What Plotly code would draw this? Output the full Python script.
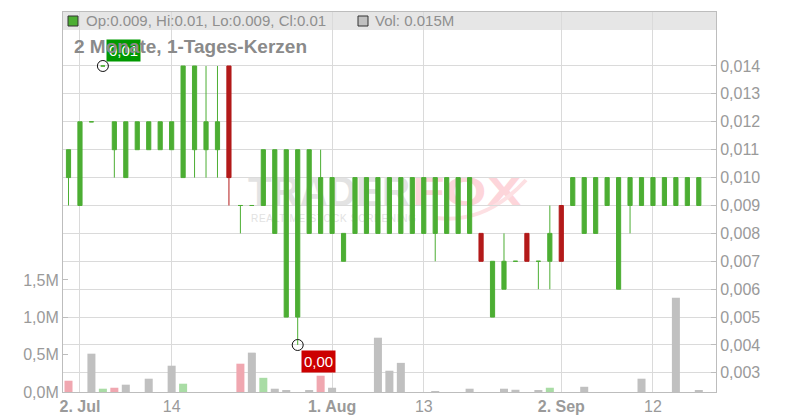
import base64
import numpy as np
import pandas as pd
import plotly.graph_objects as go

# ---------------- data ----------------
MISSING_DAYS = ["2025-08-15", "2025-09-01"]
DATES = [d.strftime("%Y-%m-%d") for d in pd.bdate_range("2025-07-01", "2025-09-18")
         if d.strftime("%Y-%m-%d") not in MISSING_DAYS]

OPEN = [0.010, 0.009, 0.012, 0.014, 0.011, 0.010, 0.011, 0.011, 0.011, 0.011,
        0.010, 0.011, 0.011, 0.011, 0.014, 0.009, 0.009, 0.009, 0.008, 0.005,
        0.005, 0.008, 0.008, 0.008, 0.007, 0.008, 0.008, 0.008, 0.008, 0.008,
        0.008, 0.008, 0.008, 0.008, 0.008, 0.008, 0.008, 0.005, 0.006, 0.007,
        0.008, 0.007, 0.007, 0.009, 0.009, 0.008, 0.008, 0.009, 0.006, 0.009,
        0.009, 0.009, 0.009, 0.009, 0.009, 0.009]
HIGH = [0.011, 0.012, 0.012, 0.014, 0.012, 0.012, 0.012, 0.012, 0.012, 0.012,
        0.014, 0.014, 0.014, 0.014, 0.014, 0.009, 0.009, 0.011, 0.011, 0.011,
        0.011, 0.011, 0.011, 0.010, 0.008, 0.010, 0.010, 0.010, 0.010, 0.010,
        0.010, 0.010, 0.010, 0.010, 0.010, 0.010, 0.008, 0.007, 0.008, 0.007,
        0.008, 0.007, 0.009, 0.009, 0.010, 0.010, 0.010, 0.010, 0.010, 0.010,
        0.010, 0.010, 0.010, 0.010, 0.010, 0.010]
LOW = [0.009, 0.009, 0.012, 0.014, 0.010, 0.010, 0.011, 0.011, 0.011, 0.011,
       0.010, 0.010, 0.010, 0.010, 0.009, 0.008, 0.009, 0.009, 0.008, 0.005,
       0.004, 0.008, 0.008, 0.008, 0.007, 0.008, 0.008, 0.008, 0.008, 0.008,
       0.008, 0.008, 0.007, 0.008, 0.008, 0.008, 0.007, 0.005, 0.006, 0.007,
       0.007, 0.006, 0.006, 0.007, 0.009, 0.008, 0.008, 0.009, 0.006, 0.008,
       0.009, 0.009, 0.009, 0.009, 0.009, 0.009]
CLOSE = [0.011, 0.012, 0.012, 0.014, 0.012, 0.012, 0.012, 0.012, 0.012, 0.012,
         0.014, 0.014, 0.012, 0.012, 0.010, 0.009, 0.009, 0.011, 0.011, 0.011,
         0.011, 0.011, 0.010, 0.010, 0.008, 0.010, 0.010, 0.010, 0.010, 0.010,
         0.010, 0.010, 0.010, 0.010, 0.010, 0.010, 0.007, 0.007, 0.007, 0.007,
         0.007, 0.007, 0.008, 0.007, 0.010, 0.010, 0.010, 0.010, 0.010, 0.010,
         0.010, 0.010, 0.010, 0.010, 0.010, 0.010]
VOLUME_M = [0.151, 0, 0.513, 0.044, 0.057, 0.098, 0, 0.178, 0, 0.352,
            0.111, 0, 0, 0, 0, 0.379, 0.527, 0.19, 0.044, 0.015,
            0, 0.015, 0.218, 0.057, 0, 0, 0, 0.727, 0.285, 0.39,
            0, 0, 0.01, 0, 0, 0.044, 0, 0, 0.044, 0.03,
            0, 0.015, 0.057, 0, 0, 0.07, 0, 0, 0, 0,
            0.178, 0, 0, 1.263, 0, 0.015]
PREV_CLOSE = 0.012

TICK_DATES = ["2025-07-02", "2025-07-14", "2025-08-01", "2025-08-13", "2025-09-02", "2025-09-12"]
TICK_LABELS = ["<b>2. Jul</b>", "14", "<b>1. Aug</b>", "13", "<b>2. Sep</b>", "12"]
PRICE_TICKS = [0.003, 0.004, 0.005, 0.006, 0.007, 0.008, 0.009, 0.010, 0.011, 0.012, 0.013, 0.014]
VOLUME_TICKS = [0.0, 0.5, 1.0, 1.5]
TITLE = "2 Monate, 1-Tages-Kerzen"

# ---------------- styles ----------------
GREEN = "#4cae33"
RED = "#b31a1a"
VOL_UP = "#a9dca5"
VOL_DOWN = "#f0a7b0"
VOL_FLAT = "#c0c0c0"
GRID = "#dadada"
AXIS = "#bdbdbd"
TXT = "#9a9a9a"
FONT = "Liberation Sans, Arial, sans-serif"

L, R, T, B = 63, 716, 12, 392  # plot area in px
def px(x):
    return (x - L) / (R - L)
def py(y):
    return (B - y) / (B - T)

# volume colours: close vs previous close
prev = [PREV_CLOSE] + CLOSE[:-1]
vol_colors = [VOL_UP if c > p else VOL_DOWN if c < p else VOL_FLAT for c, p in zip(CLOSE, prev)]

up_idx = [i for i in range(len(DATES)) if CLOSE[i] >= OPEN[i]]
dn_idx = [i for i in range(len(DATES)) if CLOSE[i] < OPEN[i]]

def sub(arr, idx):
    return [arr[i] for i in idx]

fig = go.Figure()
fig.add_trace(go.Bar(x=DATES, y=VOLUME_M, marker=dict(color=vol_colors, line=dict(width=0)),
                     width=0.7, yaxis="y", showlegend=False, hoverinfo="skip"))
for idx, col in ((up_idx, GREEN), (dn_idx, RED)):
    fig.add_trace(go.Candlestick(
        x=sub(DATES, idx), open=sub(OPEN, idx), high=sub(HIGH, idx), low=sub(LOW, idx), close=sub(CLOSE, idx),
        increasing=dict(line=dict(color=col, width=1), fillcolor=col),
        decreasing=dict(line=dict(color=col, width=1), fillcolor=col),
        yaxis="y2", showlegend=False, hoverinfo="skip"))

imax = int(np.argmax(HIGH))
imin = int(np.argmin(LOW))
fig.add_trace(go.Scatter(x=[DATES[imax], DATES[imin]], y=[HIGH[imax], LOW[imin]], mode="markers",
                         marker=dict(symbol="circle-open", size=11, color="#111", line=dict(width=1)),
                         yaxis="y2", showlegend=False, hoverinfo="skip"))

# watermark as svg image
svg = f'''<svg xmlns="http://www.w3.org/2000/svg" width="320" height="70" viewBox="0 0 320 70">
<text x="12" y="46" font-family="{FONT}" font-weight="bold" font-size="42" textLength="162" lengthAdjust="spacingAndGlyphs" fill="#e3e3e3">TRADER</text>
<text x="176" y="46" font-family="{FONT}" font-weight="bold" font-size="42" textLength="110" lengthAdjust="spacingAndGlyphs" fill="#fdd5da">FOX</text>
<path d="M200 58 Q250 64 290 20" stroke="#fde0e3" stroke-width="4" fill="none"/>
<text x="15" y="62" font-family="{FONT}" font-size="10" textLength="165" lengthAdjust="spacing" fill="#e2e2e2">REALTIME STOCK SCREENING</text>
</svg>'''
src = "data:image/svg+xml;base64," + base64.b64encode(svg.encode()).decode()

fmt2 = lambda v: f"{v:.2f}".replace(".", ",")
vol_ticktext = [f"{v:.1f}M".replace(".", ",") for v in VOLUME_TICKS]
annotations = [
    dict(xref="x", yref="y2", x=DATES[imax], y=HIGH[imax], xanchor="left", yanchor="bottom",
         xshift=3, yshift=4, showarrow=False, text=fmt2(HIGH[imax]), bgcolor="#009900",
         borderpad=2, font=dict(color="white", size=15, family=FONT)),
    dict(xref="x", yref="y2", x=DATES[imin], y=LOW[imin], xanchor="left", yanchor="top",
         xshift=3, yshift=-5, showarrow=False, text=fmt2(LOW[imin]), bgcolor="#cc0000",
         borderpad=2, font=dict(color="white", size=15, family=FONT)),
    dict(xref="paper", yref="paper", x=px(72), y=py(47), xanchor="left", yanchor="middle",
         showarrow=False, text=f"<b>{TITLE}</b>", font=dict(color="#8a8a8a", size=19, family=FONT)),
    dict(xref="paper", yref="paper", x=px(84), y=py(21), xanchor="left", yanchor="middle",
         showarrow=False,
         text=f"Op:{OPEN[-1]:g}, Hi:{HIGH[-1]:g}, Lo:{LOW[-1]:g}, Cl:{CLOSE[-1]:g}",
         font=dict(color="#8f8f8f", size=15, family=FONT)),
    dict(xref="paper", yref="paper", x=px(373), y=py(21), xanchor="left", yanchor="middle",
         showarrow=False, text=f"Vol: {VOLUME_M[-1]:g}M",
         font=dict(color="#8f8f8f", size=15, family=FONT)),
]

shapes = [
    dict(type="rect", xref="paper", yref="paper", x0=0, x1=1, y0=py(30), y1=1,
         fillcolor="#e6e6e6", line=dict(width=0), layer="below"),
    dict(type="rect", xref="paper", yref="paper", x0=px(68), x1=px(78), y0=py(26), y1=py(16),
         fillcolor=GREEN, line=dict(color="#333", width=1)),
    dict(type="rect", xref="paper", yref="paper", x0=px(358), x1=px(368), y0=py(26), y1=py(16),
         fillcolor=VOL_FLAT, line=dict(color="#333", width=1)),
]

n = len(DATES)
fig.update_layout(
    width=800, height=420,
    margin=dict(l=L, r=800 - R, t=T, b=420 - B, pad=0, autoexpand=False),
    paper_bgcolor="white", plot_bgcolor="white",
    separators=", ",
    font=dict(family=FONT, color=TXT, size=16),
    showlegend=False,
    boxgap=0.48,
    xaxis=dict(type="category", categoryorder="array", categoryarray=DATES, automargin=False,
               range=[-0.48, n + 0.5], tickvals=TICK_DATES, ticktext=TICK_LABELS,
               showgrid=True, gridcolor=GRID, gridwidth=1, showline=True, linecolor=AXIS,
               mirror=True, ticks="", tickfont=dict(size=16, color=TXT),
               rangeslider=dict(visible=False), fixedrange=True),
    yaxis=dict(side="left", range=[0, (B - T) / 74.7], tickvals=VOLUME_TICKS, ticktext=vol_ticktext,
               automargin=False, showgrid=False, zeroline=False, showline=True, linecolor=AXIS,
               ticks="inside", ticklen=5, tickcolor=AXIS, tickfont=dict(size=16, color=TXT)),
    yaxis2=dict(side="right", overlaying="y", range=[0.002315, 0.015935], tickvals=PRICE_TICKS,
                automargin=False, tickformat=".3f", showgrid=True, gridcolor=GRID, gridwidth=1,
                zeroline=False, showline=True, linecolor=AXIS, ticks="inside", ticklen=5,
                tickcolor=AXIS, tickfont=dict(size=16, color=TXT)),
    annotations=annotations,
    shapes=shapes,
    images=[dict(source=src, xref="paper", yref="paper", x=px(236), y=py(160),
                 sizex=320 / (R - L), sizey=70 / (B - T), xanchor="left", yanchor="top",
                 sizing="stretch", layer="below")],
)

fig.write_html("out.html", config={"displayModeBar": False},
               post_script="document.body.style.margin='0';document.body.style.overflow='hidden';")
